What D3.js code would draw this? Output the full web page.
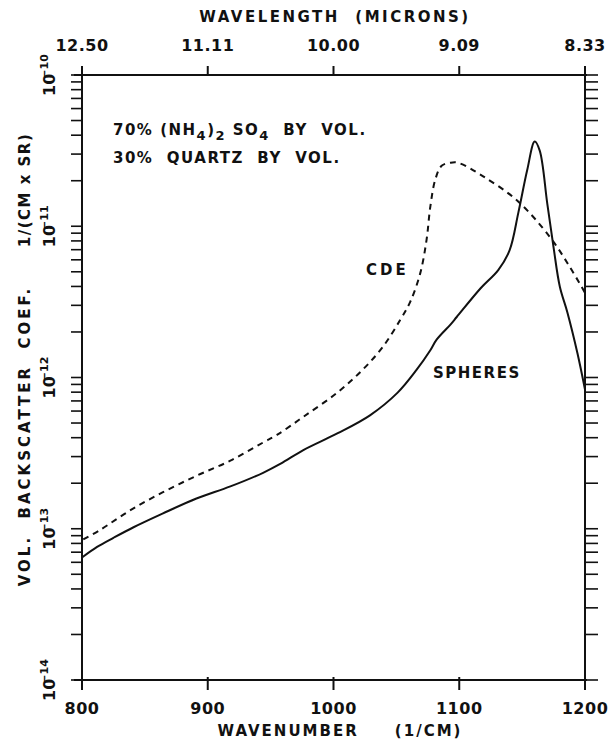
<!DOCTYPE html>
<html>
<head>
<meta charset="utf-8">
<script src="https://cdn.jsdelivr.net/npm/d3@7"></script>
<style>
  body { margin: 0; background: #fff; }
  text { font-family: "DejaVu Sans", sans-serif; font-weight: bold; fill: #111; }
</style>
</head>
<body>
<div id="chart"></div>
<script>
// wavenumber (1/cm) and backscatter (1/(cm x sr))
var spheresWave = [800, 812, 825, 841, 864, 891, 918, 944, 958, 976, 1003, 1029, 1051, 1066, 1077, 1082, 1093, 1098, 1117, 1131, 1140, 1147, 1154, 1160, 1164, 1170, 1175, 1180, 1186, 1194, 1200];
var spheresLog = [-13.19, -13.12, -13.06, -12.99, -12.90, -12.80, -12.72, -12.63, -12.57, -12.48, -12.37, -12.25, -12.10, -11.95, -11.82, -11.75, -11.65, -11.60, -11.41, -11.29, -11.16, -10.91, -10.63, -10.44, -10.50, -10.85, -11.14, -11.40, -11.57, -11.84, -12.08];

var cdeWave = [801, 814, 838, 864, 891, 918, 944, 955, 976, 1003, 1023, 1039, 1053, 1061, 1069, 1074, 1077, 1081, 1086, 1093, 1099, 1119, 1146, 1172, 1188, 1200];
var cdeLog = [-13.07, -13.01, -12.88, -12.76, -12.65, -12.55, -12.43, -12.38, -12.26, -12.10, -11.95, -11.80, -11.62, -11.50, -11.31, -11.09, -10.87, -10.69, -10.60, -10.58, -10.58, -10.67, -10.83, -11.07, -11.27, -11.44];

var wavenumberTicks = [800, 900, 1000, 1100, 1200];
var wavelengthLabels = ["12.50", "11.11", "10.00", "9.09", "8.33"];
var decadeExps = [-14, -13, -12, -11, -10];

var width = 610, height = 739;
var margin = { top: 75, right: 25, bottom: 59, left: 82 };

var svg = d3.select("#chart").append("svg")
    .attr("width", width)
    .attr("height", height);

var x = d3.scaleLinear()
    .domain([800, 1200])
    .range([margin.left, width - margin.right]);

var y = d3.scaleLog()
    .domain([1e-14, 1e-10])
    .range([height - margin.bottom, margin.top]);

var x0 = x.range()[0], x1 = x.range()[1];
var y0 = y.range()[0], y1 = y.range()[1];

// minor log ticks
var minor = [];
decadeExps.slice(0, 4).forEach(function(e) {
    for (var m = 1; m <= 9; m++) minor.push(m * Math.pow(10, e));
});
minor.push(1e-10);

var ax = svg.append("g").attr("stroke", "#111").attr("stroke-width", 2).attr("fill", "none");

// frame
ax.append("line").attr("x1", x0 - 8).attr("x2", x1 + 2).attr("y1", y1).attr("y2", y1);
ax.append("line").attr("x1", x0 - 8).attr("x2", x1 + 2).attr("y1", y0).attr("y2", y0);
ax.append("line").attr("x1", x0).attr("x2", x0).attr("y1", y1 - 8).attr("y2", y0 + 10);
ax.append("line").attr("x1", x1).attr("x2", x1).attr("y1", y1 - 8).attr("y2", y0 + 10);

// left & right log ticks
ax.selectAll(".lt").data(minor).enter().append("line")
    .attr("x1", x0 - 11).attr("x2", x0)
    .attr("y1", d => y(d)).attr("y2", d => y(d))
    .attr("stroke-width", 1.6);
ax.selectAll(".rt").data(minor).enter().append("line")
    .attr("x1", x1).attr("x2", x1 + 13)
    .attr("y1", d => y(d)).attr("y2", d => y(d))
    .attr("stroke-width", 1.6);

// bottom & top ticks
ax.selectAll(".bt").data(wavenumberTicks).enter().append("line")
    .attr("x1", d => x(d)).attr("x2", d => x(d))
    .attr("y1", y0 - 3).attr("y2", y0 + 10);
ax.selectAll(".tt").data(wavenumberTicks).enter().append("line")
    .attr("x1", d => x(d)).attr("x2", d => x(d))
    .attr("y1", y1).attr("y2", y1 - 9);

// tick labels
svg.selectAll(".bl").data(wavenumberTicks).enter().append("text")
    .attr("x", d => x(d)).attr("y", y0 + 34)
    .attr("text-anchor", "middle")
    .style("font-size", "16px").style("letter-spacing", "0.5px")
    .text(d => d);

svg.selectAll(".tl").data(wavenumberTicks).enter().append("text")
    .attr("x", d => x(d)).attr("y", y1 - 24)
    .attr("text-anchor", "middle")
    .style("font-size", "16px").style("letter-spacing", "0.5px")
    .text((d, i) => wavelengthLabels[i]);

// y decade labels (rotated)
var yl = svg.selectAll(".yl").data(decadeExps).enter().append("text")
    .attr("transform", d => "translate(" + (x0 - 27) + "," + y(Math.pow(10, d)) + ") rotate(-90)")
    .attr("text-anchor", "middle")
    .style("font-size", "16px");
yl.append("tspan").text("10");
yl.append("tspan").attr("dy", -7).attr("dx", -5).style("font-size", "11px").text(d => "\u2212" + (-d));

// axis titles
svg.append("text")
    .attr("x", 335).attr("y", 22)
    .attr("text-anchor", "middle")
    .attr("xml:space", "preserve")
    .style("font-size", "15px").style("letter-spacing", "2.5px")
    .text("WAVELENGTH  (MICRONS)");

svg.append("text")
    .attr("x", 340).attr("y", height - 3)
    .attr("text-anchor", "middle")
    .style("font-size", "15px").style("letter-spacing", "2px")
    .attr("xml:space", "preserve")
    .text("WAVENUMBER     (1/CM)");

svg.append("text")
    .attr("transform", "translate(30,436) rotate(-90)")
    .attr("text-anchor", "middle")
    .style("font-size", "15px").style("letter-spacing", "3px")
    .attr("xml:space", "preserve")
    .text("VOL.  BACKSCATTER  COEF.");

svg.append("text")
    .attr("transform", "translate(30,190) rotate(-90)")
    .attr("text-anchor", "middle")
    .style("font-size", "15px").style("letter-spacing", "1.5px")
    .text("1/(CM x SR)");

// annotation
var a1 = svg.append("text")
    .attr("x", 113).attr("y", 135)
    .attr("xml:space", "preserve")
    .style("font-size", "15px").style("letter-spacing", "1.5px");
a1.append("tspan").text("70% (NH");
a1.append("tspan").attr("dy", 5).style("font-size", "13px").text("4");
a1.append("tspan").attr("dy", -5).text(")");
a1.append("tspan").attr("dy", 5).style("font-size", "13px").text("2");
a1.append("tspan").attr("dy", -5).text(" SO");
a1.append("tspan").attr("dy", 5).style("font-size", "13px").text("4");
a1.append("tspan").attr("dy", -5).text("  BY  VOL.");

svg.append("text")
    .attr("x", 113).attr("y", 163)
    .style("font-size", "15px").style("letter-spacing", "1.5px")
    .attr("xml:space", "preserve")
    .text("30%  QUARTZ  BY  VOL.");

svg.append("text")
    .attr("x", 366).attr("y", 275)
    .style("font-size", "15px").style("letter-spacing", "3px")
    .text("CDE");

svg.append("text")
    .attr("x", 433).attr("y", 378)
    .style("font-size", "15px").style("letter-spacing", "1.5px")
    .text("SPHERES");

// curves
var line = d3.line()
    .x(d => x(d[0]))
    .y(d => y(Math.pow(10, d[1])))
    .curve(d3.curveCatmullRom.alpha(0.5));

var spheres = spheresWave.map((w, i) => [w, spheresLog[i]]);
var cde = cdeWave.map((w, i) => [w, cdeLog[i]]);

svg.append("path")
    .datum(spheres)
    .attr("fill", "none")
    .attr("stroke", "#111")
    .attr("stroke-width", 2)
    .attr("d", line);

svg.append("path")
    .datum(cde)
    .attr("fill", "none")
    .attr("stroke", "#111")
    .attr("stroke-width", 2)
    .attr("stroke-dasharray", "6,5")
    .attr("d", line);
</script>
</body>
</html>
